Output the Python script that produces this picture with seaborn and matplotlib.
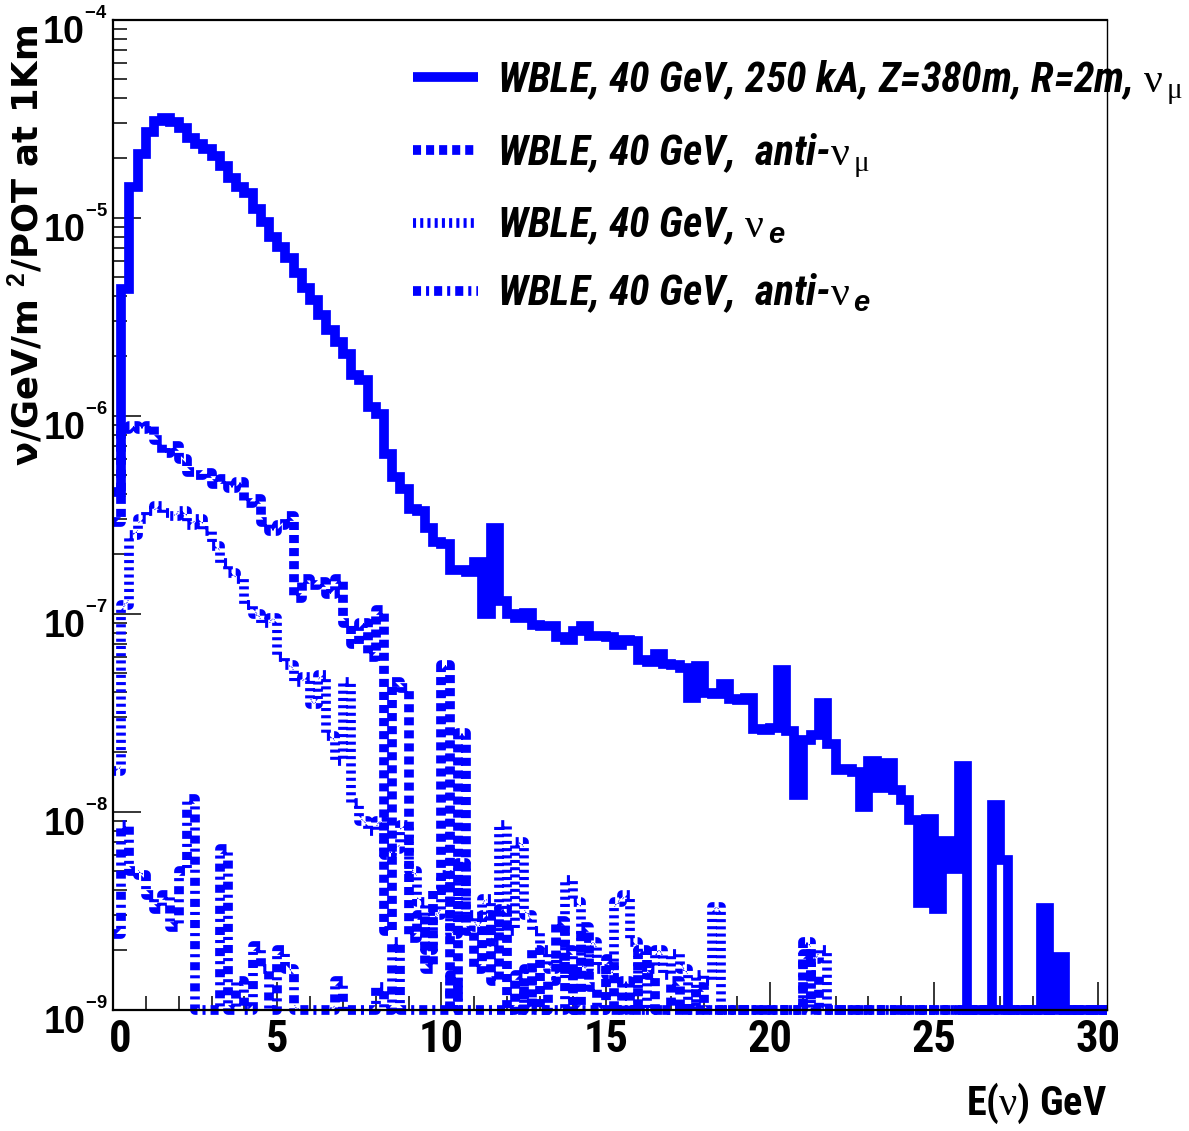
import numpy as np
import seaborn as sns
import matplotlib
matplotlib.use("Agg")
import matplotlib.pyplot as plt
import matplotlib.font_manager as fm
import matplotlib.ticker as mticker
import matplotlib.transforms as mtransforms

# 0.25 GeV bins from 0 to 30.25 GeV
bin_width = 0.25
n_bins = 121
x_max = n_bins * bin_width
centers = (np.arange(n_bins) + 0.5) * bin_width

# nu/GeV/m^2/POT at 1 km, one value per bin (0 = empty bin)
numu = [4.1e-7, 4.35e-6, 1.43e-5, 2.09e-5, 2.71e-5, 3.07e-5, 3.19e-5, 3.03e-5, 2.82e-5, 2.53e-5,
        2.34e-5, 2.22e-5, 2.05e-5, 1.81e-5, 1.58e-5, 1.43e-5, 1.33e-5, 1.11e-5, 9.5e-6, 8.0e-6,
        7.12e-6, 6.22e-6, 5.23e-6, 4.40e-6, 3.83e-6, 3.22e-6, 2.69e-6, 2.35e-6, 2.04e-6, 1.60e-6,
        1.51e-6, 1.10e-6, 1.02e-6, 6.41e-7, 4.89e-7, 4.24e-7, 3.36e-7, 3.30e-7, 2.70e-7, 2.30e-7,
        2.25e-7, 1.66e-7, 1.66e-7, 1.62e-7, 1.82e-7, 9.9e-8, 2.71e-7, 1.15e-7, 1.0e-7, 9.5e-8,
        1.01e-7, 8.7e-8, 8.65e-8, 8.6e-8, 7.64e-8, 7.35e-8, 8.19e-8, 8.65e-8, 7.7e-8, 7.7e-8,
        7.6e-8, 6.93e-8, 7.37e-8, 7.3e-8, 5.82e-8, 5.71e-8, 6.22e-8, 5.56e-8, 5.5e-8, 5.29e-8,
        3.73e-8, 5.45e-8, 3.95e-8, 3.9e-8, 4.39e-8, 3.69e-8, 3.65e-8, 3.73e-8, 2.61e-8, 2.58e-8,
        2.63e-8, 5.17e-8, 2.55e-8, 1.21e-8, 2.30e-8, 2.43e-8, 3.53e-8, 2.19e-8, 1.62e-8, 1.64e-8,
        1.58e-8, 1.05e-8, 1.80e-8, 1.31e-8, 1.76e-8, 1.28e-8, 1.14e-8, 9.06e-9, 3.45e-9, 9.17e-9,
        3.22e-9, 7.10e-9, 5.12e-9, 1.70e-8, 0, 0, 0, 1.08e-8, 5.69e-9, 0,
        0, 0, 0, 3.25e-9, 0, 1.85e-9, 0, 0, 0, 0,
        0]

anumu = [2.9e-7, 8.5e-7, 8.8e-7, 8.5e-7, 8.8e-7, 7.5e-7, 6.5e-7, 7.0e-7, 6.0e-7, 5.2e-7,
         5.0e-7, 5.1e-7, 4.5e-7, 4.8e-7, 4.3e-7, 4.6e-7, 3.6e-7, 3.8e-7, 2.9e-7, 2.6e-7,
         2.8e-7, 3.1e-7, 1.2e-7, 1.5e-7, 1.4e-7, 1.45e-7, 1.25e-7, 1.5e-7, 9.0e-8, 7.0e-8,
         9.0e-8, 6.0e-8, 1.04e-7, 2.5e-9, 4.5e-8, 4.2e-8, 2.3e-9, 3.0e-9, 1.6e-9, 4.0e-9,
         5.5e-8, 0, 2.5e-8, 2.5e-9, 1.6e-9, 3.0e-9, 1.4e-9, 3.2e-9, 0, 1.5e-9,
         0, 2.0e-9, 0, 1.4e-9, 2.8e-9, 1.5e-9, 0, 2.6e-9, 1.3e-9, 0,
         1.8e-9, 0, 1.4e-9, 0, 2.0e-9, 1.5e-9, 0, 0, 1.4e-9, 0,
         0, 1.3e-9, 0, 0, 0, 0, 0, 0, 0, 0,
         0, 0, 0, 0, 1.9e-9, 1.5e-9, 0, 0, 0, 0,
         0, 0, 0, 0, 0, 0, 0, 0, 0, 0,
         0, 0, 0, 0, 0, 0, 0, 0, 0, 0,
         0, 0, 0, 0, 0, 0, 0, 0, 0, 0,
         0]

nue = [1.6e-8, 1.1e-7, 2.5e-7, 3.0e-7, 3.3e-7, 3.5e-7, 3.2e-7, 3.1e-7, 3.3e-7, 2.8e-7,
       3.0e-7, 2.6e-7, 2.2e-7, 1.8e-7, 1.6e-7, 1.5e-7, 1.1e-7, 1.0e-7, 9.0e-8, 9.5e-8,
       6.0e-8, 5.5e-8, 4.5e-8, 4.8e-8, 3.5e-8, 4.9e-8, 2.4e-8, 1.8e-8, 4.5e-8, 1.1e-8,
       9.0e-9, 8.0e-9, 9.0e-9, 6.0e-9, 6.5e-9, 8.5e-9, 5.0e-9, 3.5e-9, 2.0e-9, 3.0e-9,
       4.8e-9, 2.4e-9, 5.5e-9, 3.0e-9, 2.6e-9, 3.6e-9, 2.2e-9, 8.5e-9, 2.5e-9, 7.0e-9,
       3.0e-9, 2.5e-9, 2.0e-9, 1.6e-9, 1.8e-9, 4.5e-9, 3.5e-9, 1.6e-9, 2.2e-9, 1.6e-9,
       1.5e-9, 3.5e-9, 3.8e-9, 2.2e-9, 0, 1.6e-9, 2.0e-9, 1.5e-9, 1.9e-9, 1.6e-9,
       0, 1.5e-9, 1.4e-9, 3.3e-9, 0, 0, 0, 0, 0, 0,
       0, 0, 0, 0, 0, 1.8e-9, 2.0e-9, 0, 0, 0,
       0, 0, 0, 0, 0, 0, 0, 0, 0, 0,
       0, 0, 0, 0, 0, 0, 0, 0, 0, 0,
       0, 0, 0, 0, 0, 0, 0, 0, 0, 0,
       0]

anue = [2.4e-9, 8.5e-9, 5.0e-9, 4.8e-9, 3.8e-9, 3.2e-9, 3.8e-9, 2.6e-9, 5.0e-9, 1.15e-8,
        0, 0, 0, 6.5e-9, 0, 1.4e-9, 0, 2.1e-9, 1.6e-9, 0,
        2.0e-9, 1.6e-9, 0, 0, 0, 0, 0, 1.4e-9, 0, 0,
        0, 0, 1.3e-9, 0, 2.2e-9, 0, 0, 0, 0, 0,
        0, 1.5e-9, 0, 0, 0, 0, 0, 0, 0, 0,
        1.6e-9, 0, 0, 0, 0, 2.0e-9, 0, 0, 0, 0,
        0, 0, 0, 0, 0, 0, 0, 0, 0, 0,
        0, 0, 0, 0, 0, 0, 0, 0, 0, 0,
        0, 0, 0, 0, 2.2e-9, 0, 0, 0, 0, 0,
        0, 0, 0, 0, 0, 0, 0, 0, 0, 0,
        0, 0, 0, 0, 0, 0, 0, 0, 0, 0,
        0, 0, 0, 0, 0, 0, 0, 0, 0, 0,
        0]

legend_labels = [
    r"WBLE, 40 GeV, 250 kA, Z=380m, R=2m, $\mathrm{\nu}_{\,\mathrm{\mu}}$",
    r"WBLE, 40 GeV,  anti-$\mathrm{\nu}_{\,\mathrm{\mu}}$",
    r"WBLE, 40 GeV, $\mathrm{\nu}_{\,\mathit{e}}$",
    r"WBLE, 40 GeV,  anti-$\mathrm{\nu}_{\,\mathit{e}}$",
]

# ROOT text here is a condensed bold sans; use one if the system has it
entries = fm.fontManager.ttflist
names = {f.name for f in entries}
cond_kw = None
for nm in ["Liberation Sans Narrow", "Roboto Condensed", "Open Sans Condensed"]:
    if nm in names:
        cond_kw = {"family": nm}
        k = 1.0
        break
if cond_kw is None and any(f.name == "DejaVu Sans" and "condensed" in str(f.stretch) for f in entries):
    cond_kw = {"family": "DejaVu Sans", "stretch": "condensed"}
    k = 0.85
if cond_kw is None:
    cond_kw = {"family": "Liberation Sans"}
    k = 0.8

plt.rcParams["mathtext.fontset"] = "custom"
plt.rcParams["mathtext.rm"] = "Liberation Serif"
plt.rcParams["mathtext.it"] = "Liberation Sans:bold:italic"
plt.rcParams["mathtext.bf"] = "Liberation Sans:bold"
plt.rcParams["lines.scale_dashes"] = False

fig = plt.figure(figsize=(11.89, 11.31), dpi=100)
ax = fig.add_axes([113 / 1189, 1 - 1009.5 / 1131, 993.5 / 1189, 990 / 1131])

ymin = 1e-9  # empty bins are drawn on the frame, as ROOT does
line_styles = [
    {},
    {"dashes": (5.8, 3.6)},
    {"dashes": (2.2, 3.0)},
    {"dashes": (5.8, 3.6, 2.2, 3.6)},
]
for vals, st in zip([numu, anumu, nue, anue], line_styles):
    sns.histplot(x=centers, weights=np.maximum(vals, ymin), bins=n_bins, binrange=(0, x_max),
                 element="step", fill=False, color="#0000ff", linewidth=7,
                 solid_joinstyle="miter", solid_capstyle="butt", dash_capstyle="butt",
                 clip_on=False, ax=ax, **st)

ax.set_yscale("log")
ax.set_xlim(0, x_max)
ax.set_ylim(1e-9, 1e-4)

tick_size = 32 if k == 1.0 else 30
xfont = fm.FontProperties(weight="bold", size=tick_size, **cond_kw)
xt = np.arange(0, 31, 5)
ax.set_xticks(xt, labels=[str(v) for v in xt], fontproperties=xfont)
ax.xaxis.set_minor_locator(mticker.MultipleLocator(1))

yt = [1e-9, 1e-8, 1e-7, 1e-6, 1e-5, 1e-4]
ax.set_yticks(yt, labels=[r"$\mathbf{10^{{}^{%d}}}$" % e for e in range(-9, -3)], fontsize=27)
ax.yaxis.set_minor_locator(mticker.LogLocator(base=10, subs=np.arange(2, 10), numticks=50))
ax.yaxis.set_minor_formatter(mticker.NullFormatter())

ax.tick_params(which="both", direction="in", top=False, right=False, width=1.1, color="black")
ax.tick_params(which="major", length=20)
ax.tick_params(which="minor", length=10)
ax.tick_params(axis="x", which="major", pad=7)
ax.tick_params(axis="y", which="major", pad=4)
for s in ["left", "bottom", "top"]:
    ax.spines[s].set_linewidth(1.6)
ax.spines["right"].set_linewidth(1.0)

# ROOT puts the exponent labels a bit below the tick, and the "0" a bit right
shift = mtransforms.ScaledTranslation(0, -0.07, fig.dpi_scale_trans)
for t in ax.yaxis.get_major_ticks():
    t.label1.set_transform(t.label1.get_transform() + shift)
zero_tick = ax.xaxis.get_major_ticks()[0]
zero_tick.label1.set_transform(zero_tick.label1.get_transform()
                               + mtransforms.ScaledTranslation(0.07, 0, fig.dpi_scale_trans))

ax.set_ylabel(r"ν/GeV/m $^{\mathbf{2}}$/POT at 1Km", loc="top", fontsize=25.5,
              fontweight="bold", family="DejaVu Sans")
ax.yaxis.set_label_coords((45 - 113) / 993.5, (1009.5 - 25) / 990)

xl_size = 29 if k == 1.0 else 26
ax.set_xlabel(r"E($\mathrm{\nu}$) GeV", loc="right",
              fontproperties=fm.FontProperties(weight="bold", size=xl_size, **cond_kw))
ax.xaxis.set_label_coords(1.0, (1009.5 - 1081) / 990)

leg_pt = 30 * k
leg_px = leg_pt * 100 / 72
legend_font = fm.FontProperties(weight="bold", style="italic", size=leg_pt, **cond_kw)
ax.legend(handles=ax.lines[:4], labels=legend_labels, loc="upper left",
          bbox_to_anchor=(413 / 1189, 1 - 58 / 1131), bbox_transform=fig.transFigure,
          frameon=False, prop=legend_font, handlelength=65 / leg_px,
          handletextpad=19 / leg_px, labelspacing=(70 - 1.09 * leg_px) / leg_px,
          borderpad=0, borderaxespad=0)

fig.savefig("out.png", dpi=100)
